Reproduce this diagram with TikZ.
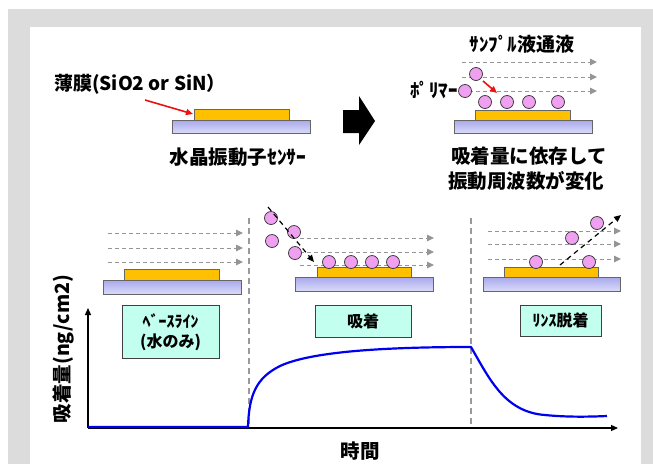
\documentclass[tikz,border=0pt]{standalone}
\usepackage{fontspec}
\setmainfont{Noto Sans CJK JP}
\usetikzlibrary{arrows.meta}

\definecolor{framegray}{HTML}{DCDCDC}
\definecolor{gold}{HTML}{FFC000}
\definecolor{subtop}{HTML}{A8A8EC}
\definecolor{subbot}{HTML}{DADAFA}
\definecolor{beadc}{HTML}{F0A0F0}
\definecolor{boxc}{HTML}{C2FFEE}
\definecolor{flowgray}{HTML}{959595}
\definecolor{sepgray}{HTML}{9A9A9A}
\definecolor{arrred}{HTML}{EE1111}
\definecolor{curveblue}{HTML}{0000F0}

\newcommand{\largetext}{\fontsize{19.5}{23}\selectfont\bfseries}
\newcommand{\labeltext}{\fontsize{19}{22}\selectfont\bfseries}
\newcommand{\midtext}{\fontsize{16}{19}\selectfont\bfseries}

\tikzset{
  film/.style={draw=black!60, fill=gold, line width=0.8pt},
  base/.style={draw=black!60, top color=subtop, bottom color=subbot, line width=0.8pt},
  bead/.style={circle, draw=black!80, fill=beadc, minimum size=13pt, inner sep=0pt, line width=0.7pt},
  flow/.style={draw=flowgray, dash pattern=on 4pt off 3pt, line width=0.9pt,
               -{Triangle[length=7pt,width=6.5pt,fill=flowgray]}},
  move/.style={draw=black, dash pattern=on 5pt off 4pt, line width=1.2pt,
               -{Triangle[length=7pt,width=6pt]}},
  pointer/.style={draw=arrred, line width=1.6pt, -{Triangle[length=7pt,width=6pt]}},
  phase/.style={draw=sepgray, dash pattern=on 6pt off 4pt, line width=1.3pt},
  stagebox/.style={draw=black!75, fill=boxc, line width=1pt, inner sep=0pt},
  axis/.style={draw=black, line width=1.2pt, -{Triangle[length=7pt,width=6pt]}},
  lbl/.style={inner sep=0pt, text=black}
}

\begin{document}
\begin{tikzpicture}[x=1pt, y=-1pt]
\useasboundingbox (0,0) rectangle (653,464);

% frame
\fill[framegray] (8,9) rectangle (653,464);
\fill[white] (30,27) rectangle (641,464);

% ---------- sensor alone ----------
\draw[base] (172,120) rectangle (310,133);
\draw[film] (194,109) rectangle (289,120);
\node[lbl, anchor=west] (thin) at (54,84) {\labeltext 薄膜(SiO2 or SiN）};
\coordinate (thinfrom) at (145,100);
\coordinate (thinto) at (193,114);
\draw[pointer] (thinfrom) -- (thinto);
\node[lbl] (qcm) at (238,157) {\largetext 水晶振動子ｾﾝｻｰ};

% big arrow
\fill[black] (343,110) -- (359,110) -- (359,96) -- (375,121) -- (359,145) -- (359,133) -- (343,133) -- cycle;

% ---------- sensor with sample ----------
\node[lbl] (sample) at (522,44) {\labeltext ｻﾝﾌﾟﾙ液通液};
\foreach \yy [count=\i] in {62,77,91} {
  \coordinate (sa\i) at (462,\yy);
  \coordinate (sb\i) at (597,\yy);
  \draw[flow] (sa\i) -- (sb\i);
}
\draw[base] (454,120) rectangle (592,133);
\draw[film] (475,110) rectangle (570,120);
\foreach \xx [count=\i] in {485,507,529,558} \node[bead] (pa\i) at (\xx,102) {};
\node[bead] (pf1) at (476,74) {};
\node[bead] (pf2) at (465,91) {};
\node[lbl, anchor=east] (poly) at (458,90) {\labeltext ﾎﾟﾘﾏｰ};
\coordinate (redfrom) at (483,81);
\coordinate (redto) at (497,93);
\draw[pointer] (redfrom) -- (redto);
\node[lbl] (res1) at (529,156) {\largetext 吸着量に依存して};
\node[lbl] (res2) at (526,181) {\largetext 振動周波数が変化};

% ---------- phase separators ----------
\coordinate (s1t) at (249,218); \coordinate (s1b) at (249,428);
\coordinate (s2t) at (471,218); \coordinate (s2b) at (471,428);
\draw[phase] (s1t) -- (s1b);
\draw[phase] (s2t) -- (s2b);

% ---------- baseline ----------
\foreach \yy [count=\i] in {233,248,262} {
  \coordinate (ba\i) at (108,\yy);
  \coordinate (bb\i) at (243,\yy);
  \draw[flow] (ba\i) -- (bb\i);
}
\draw[base] (103,280) rectangle (241,294);
\draw[film] (124,269) rectangle (219,280);
\node[stagebox, minimum width=97pt, minimum height=53pt] (box1) at (170.5,331.5) {};
\node[lbl] (box1a) at (170.5,321) {\midtext ﾍﾞｰｽﾗｲﾝ};
\node[lbl] (box1b) at (170.5,342) {\midtext (水のみ)};

% ---------- adsorption ----------
\foreach \yy [count=\i] in {238,252,265} {
  \coordinate (ca\i) at (300,\yy);
  \coordinate (cb\i) at (434,\yy);
  \draw[flow] (ca\i) -- (cb\i);
}
\draw[base] (295,277) rectangle (433,291);
\draw[film] (317,267) rectangle (411,277);
\foreach \xx [count=\i] in {329,351,372,393} \node[bead] (ad\i) at (\xx,262) {};
\node[bead] (af1) at (271,218) {};
\node[bead] (af2) at (272,241) {};
\node[bead] (af3) at (294,232) {};
\node[bead] (af4) at (295,253) {};
\coordinate (adfrom) at (268,207);
\coordinate (adto) at (314,262);
\draw[move] (adfrom) -- (adto);
\node[stagebox, minimum width=96pt, minimum height=32pt] (box2) at (363,321) {};
\node[lbl] (box2a) at (363,321) {\midtext 吸着};

% ---------- rinse ----------
\foreach \yy [count=\i] in {231,244,259} {
  \coordinate (ra\i) at (488,\yy);
  \coordinate (rb\i) at (621,\yy);
  \draw[flow] (ra\i) -- (rb\i);
}
\draw[base] (483,277) rectangle (620,291);
\draw[film] (504,267) rectangle (598,277);
\node[bead] (rs1) at (536,262) {};
\node[bead] (rs2) at (589,262) {};
\node[bead] (rf1) at (572,238) {};
\node[bead] (rf2) at (597,223) {};
\coordinate (rnfrom) at (560,265);
\coordinate (rnto) at (621,215);
\draw[move] (rnfrom) -- (rnto);
\node[stagebox, minimum width=81pt, minimum height=31pt] (box3) at (560.5,320.5) {};
\node[lbl] (box3a) at (560.5,320.5) {\midtext ﾘﾝｽ脱着};

% ---------- graph ----------
\coordinate (origin) at (88,428);
\coordinate (ytop) at (88,308);
\coordinate (xend) at (618,428);
\draw[axis] (origin) -- (ytop);
\draw[axis] (origin) -- (xend);
\node[lbl] (xlab) at (360,451) {\largetext 時間};
\node[lbl, rotate=90] (ylab) at (63,349) {\largetext 吸着量(ng/cm2)};

\draw[curveblue, line width=2.2pt, line join=round]
  (88,427) -- (248,427)
  .. controls (249,395) and (256,378) .. (280,366)
  .. controls (310,352) and (380,347) .. (471,347)
  .. controls (490,380) and (505,412) .. (545,415)
  .. controls (565,417) and (585,417) .. (607,416);
\end{tikzpicture}
\end{document}
